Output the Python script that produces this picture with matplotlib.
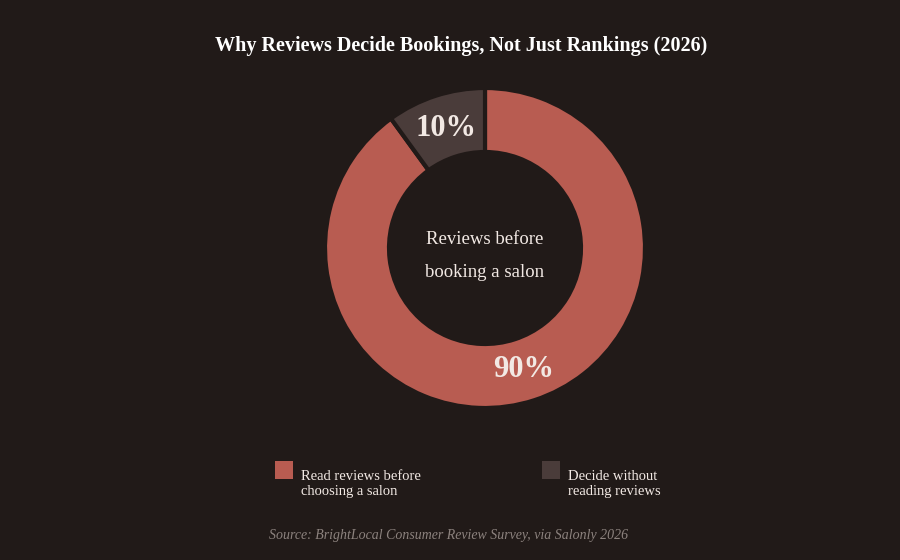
import numpy as np
import matplotlib.pyplot as plt
from matplotlib.patches import Rectangle

plt.rcParams['font.family'] = ['Liberation Serif', 'DejaVu Serif']

labels = ["Read reviews before\nchoosing a salon", "Decide without\nreading reviews"]
values = [90, 10]
colors = ["#b85c51", "#4a3c3a"]
bg = "#211a18"
txt = "#f2e9e4"

fig = plt.figure(figsize=(9, 5.6), dpi=100, facecolor=bg)

# donut axes, centred at (485, 248) px
ax = fig.add_axes([315 / 900, (560 - 248 - 170) / 560, 340 / 900, 340 / 560])
ax.set_facecolor(bg)
wedges, _ = ax.pie(values, colors=colors, startangle=90, counterclock=False,
                   radius=1.0, wedgeprops=dict(width=0.4, edgecolor=bg, linewidth=3))
ax.set_xlim(-1.0625, 1.0625)
ax.set_ylim(-1.0625, 1.0625)
ax.set_aspect('equal')
ax.axis('off')

# percentage labels in the middle of the ring
for w, v in zip(wedges, values):
    mid = np.deg2rad((w.theta1 + w.theta2) / 2)
    ax.text(0.79 * np.cos(mid), 0.79 * np.sin(mid) - 0.005, "{}%".format(v),
            ha='center', va='center', fontsize=22, fontweight='bold', color=txt)

ax.text(0, 0.05, "Reviews before", ha='center', va='center', fontsize=13.5, color=txt)
ax.text(0, -0.155, "booking a salon", ha='center', va='center', fontsize=13.5, color=txt)

fig.text(461 / 900, 1 - 46 / 560, "Why Reviews Decide Bookings, Not Just Rankings (2026)",
         ha='center', va='center', fontsize=14.5, fontweight='bold', color='white')

# legend
for x0, c, lab in zip([275, 542], colors, labels):
    fig.patches.append(Rectangle((x0 / 900, 1 - 479 / 560), 18 / 900, 18 / 560,
                                 transform=fig.transFigure, facecolor=c, edgecolor='none'))
    fig.text((x0 + 26) / 900, 1 - 469.5 / 560, lab, ha='left', va='top',
             fontsize=10.5, color=txt, linespacing=1.2)

fig.text(449 / 900, 1 - 535 / 560, "Source: BrightLocal Consumer Review Survey, via Salonly 2026",
         ha='center', va='center', fontsize=10, style='italic', color='#8c827e')

fig.savefig("out.png", dpi=100, facecolor=bg)
